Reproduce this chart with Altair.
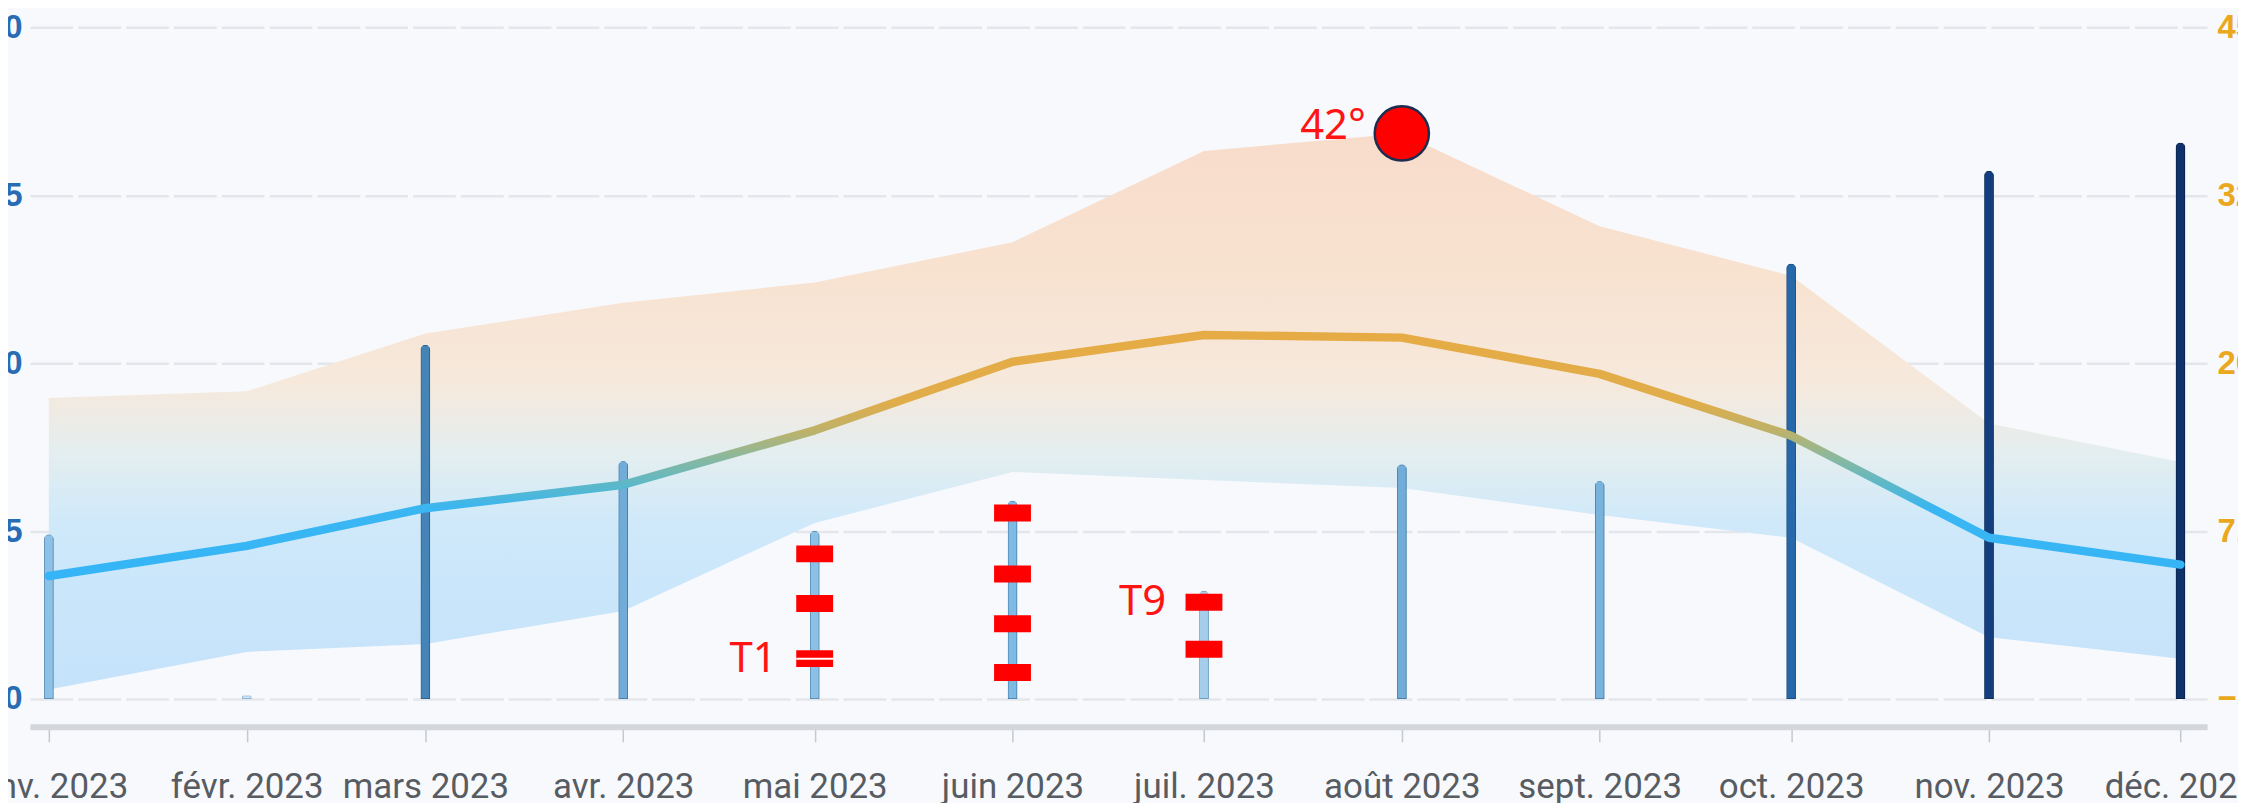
import json
import altair as alt
import pandas as pd

# ---------------- data ----------------
months = ["2023-01-01", "2023-02-01", "2023-03-01", "2023-04-01", "2023-05-01", "2023-06-01",
          "2023-07-01", "2023-08-01", "2023-09-01", "2023-10-01", "2023-11-01", "2023-12-01"]
month_labels = ["janv. 2023", "févr. 2023", "mars 2023", "avr. 2023", "mai 2023", "juin 2023",
                "juil. 2023", "août 2023", "sept. 2023", "oct. 2023", "nov. 2023", "déc. 2023"]
precip = [24.5, 0.5, 52.7, 35.4, 25.0, 29.5, 16.1, 34.9, 32.4, 64.8, 78.6, 82.8]
temp_mean = [4.15, 6.4, 9.2, 10.95, 15.0, 20.1, 22.1, 21.9, 19.2, 14.6, 7.0, 5.0]
temp_max = [17.4, 17.9, 22.2, 24.5, 26.0, 29.0, 35.8, 37.1, 30.2, 26.5, 15.5, 12.65]
temp_min = [-4.3, -1.5, -0.9, 1.55, 8.1, 11.9, 11.3, 10.7, 8.7, 7.0, -0.4, -2.0]

marker_months = ["2023-05-01", "2023-05-01", "2023-05-01",
                 "2023-06-01", "2023-06-01", "2023-06-01", "2023-06-01",
                 "2023-07-01", "2023-07-01"]
marker_values = [21.6, 14.2, 6.0, 27.7, 18.6, 11.2, 3.95, 14.4, 7.4]

tag_months = ["2023-05-01", "2023-07-01"]
tag_values = [6.0, 14.4]
tag_texts = ["T1", "T9"]

record_month = "2023-08-01"
record_value = 37.1
record_text = "42°"

precip_ticks = [0, 25, 50, 75, 100]
temp_ticks = [-5, 7.5, 20, 32.5, 45]

# ---------------- helpers ----------------
base_day = pd.Timestamp("2023-01-01")


def to_day(s):
    return (pd.to_datetime(pd.Series(s)) - base_day).dt.days.tolist()


days = to_day(months)
df = pd.DataFrame({"day": days, "precip": precip, "tmean": temp_mean,
                   "tmax": temp_max, "tmin": temp_min})
mk = pd.DataFrame({"day": to_day(marker_months), "v": marker_values})
tags = pd.DataFrame({"day": to_day(tag_months), "v": tag_values, "t": tag_texts})
t1 = tags[tags["t"] == "T1"]
rec = pd.DataFrame({"day": to_day([record_month]), "v": [record_value], "t": [record_text]})

x_scale = alt.Scale(domain=[-2.18, 337.4], nice=False, zero=False)
p_scale = alt.Scale(domain=[0, 100], nice=False, zero=False)
t_scale = alt.Scale(domain=[-5, 45], nice=False, zero=False)

label_expr = (json.dumps(month_labels, ensure_ascii=False)
              + "[indexof(" + json.dumps(days) + ", datum.value)]")

x_axis = alt.Axis(values=days, labelExpr=label_expr, title=None, grid=False,
                  labelFlush=False, labelOverlap=False, labelLimit=0, labelFontSize=35,
                  labelFont="Roboto", labelColor="#575c63", labelPadding=28,
                  tickSize=15, tickWidth=1.5, tickColor="#c5c8cc",
                  domainColor="#d3d6da", domainWidth=6, offset=28)
X = alt.X("day:Q", scale=x_scale, axis=x_axis)

left_axis = alt.Axis(values=precip_ticks, orient="left", title=None, grid=True,
                     gridDash=[43, 5], gridColor="#e3e6ea", gridWidth=2.5, domain=False,
                     ticks=False, labelColor="#2a6cb3", labelFontWeight="bold",
                     labelFontSize=33, labelFont="Liberation Sans", labelPadding=8,
                     format="d")
right_axis = alt.Axis(values=temp_ticks, orient="right", title=None, grid=False,
                      domain=False, ticks=False, labelColor="#eaa81e",
                      labelFontWeight="bold", labelFontSize=33, labelFont="Liberation Sans",
                      labelPadding=10, labelAlign="left", format=".1~f")

band_grad = alt.Gradient(gradient="linear", x1=0, x2=0, y1=1, y2=0, stops=[
    alt.GradientStop(color="#c4e2fa", offset=0),
    alt.GradientStop(color="#cfe9fa", offset=0.3),
    alt.GradientStop(color="#e3eef0", offset=0.42),
    alt.GradientStop(color="#f6e9dc", offset=0.55),
    alt.GradientStop(color="#f8e2d0", offset=0.75),
    alt.GradientStop(color="#f8dccb", offset=1),
])
line_grad = alt.Gradient(gradient="linear", x1=0, x2=0, y1=1, y2=0, stops=[
    alt.GradientStop(color="#35b5f7", offset=0),
    alt.GradientStop(color="#3ab6f2", offset=0.28),
    alt.GradientStop(color="#5cb8c8", offset=0.38),
    alt.GradientStop(color="#8eb89a", offset=0.5),
    alt.GradientStop(color="#bdb26a", offset=0.6),
    alt.GradientStop(color="#e0ad4a", offset=0.72),
    alt.GradientStop(color="#e6ab45", offset=1),
])

band = alt.Chart(df).mark_area(color=band_grad, interpolate="linear").encode(
    x=X,
    y=alt.Y("tmax:Q", scale=t_scale, axis=right_axis),
    y2="tmin:Q",
)

bars = alt.Chart(df).mark_bar(width=9.5, cornerRadiusTopLeft=4.75, cornerRadiusTopRight=4.75,
                              strokeWidth=1.5).encode(
    x=X,
    y=alt.Y("precip:Q", scale=p_scale, axis=left_axis),
    color=alt.Color("precip:Q", legend=None, scale=alt.Scale(
        domain=[0, 30, 55, 70, 85],
        range=["#cfe6f7", "#7db9e1", "#3f7fb2", "#1b5ba4", "#0c2c62"])),
    stroke=alt.Stroke("precip:Q", legend=None, scale=alt.Scale(
        domain=[0, 30, 55, 70, 85],
        range=["#7fa9c8", "#3f79a6", "#24557f", "#0f3a70", "#06183a"])),
)

line = alt.Chart(df).mark_line(stroke=line_grad, strokeWidth=8.5, strokeCap="round",
                               strokeJoin="round", interpolate="linear").encode(
    x=X,
    y=alt.Y("tmean:Q", scale=t_scale, axis=None),
)

markers = alt.Chart(mk).mark_tick(orient="horizontal", size=37, thickness=17,
                                  color="#ff0000", opacity=1).encode(
    x=X,
    y=alt.Y("v:Q", scale=p_scale, axis=None),
)
t1_line = alt.Chart(t1).mark_tick(orient="horizontal", size=37, thickness=2,
                                  color="#ffffff", opacity=1).encode(
    x=X,
    y=alt.Y("v:Q", scale=p_scale, axis=None),
)

tag_text = alt.Chart(tags).mark_text(align="right", baseline="middle", dx=-38,
                                     fontSize=42, font="Noto Sans", color="#ff1414").encode(
    x=X,
    y=alt.Y("v:Q", scale=p_scale, axis=None),
    text="t:N",
)

rec_point = alt.Chart(rec).mark_point(shape="circle", filled=True, size=2960, fill="#ff0000",
                                      stroke="#1d2d50", strokeWidth=2.5, opacity=1).encode(
    x=X,
    y=alt.Y("v:Q", scale=t_scale, axis=None),
)
rec_text = alt.Chart(rec).mark_text(align="right", baseline="middle", dx=-36, dy=-7,
                                    fontSize=42, font="Noto Sans", color="#ff1414").encode(
    x=X,
    y=alt.Y("v:Q", scale=t_scale, axis=None),
    text="t:N",
)

chart = alt.layer(band, bars, line, markers, t1_line, tag_text, rec_point, rec_text).resolve_scale(
    y="independent", color="independent", stroke="independent"
).properties(
    width=2185, height=674,
    autosize=alt.AutoSizeParams(type="none"),
    padding={"left": 22, "top": 18, "right": 31, "bottom": 103},
    background="#f8f9fc",
).configure_view(stroke=None)

chart.save("out.html", embed_options={"renderer": "svg", "actions": False})
